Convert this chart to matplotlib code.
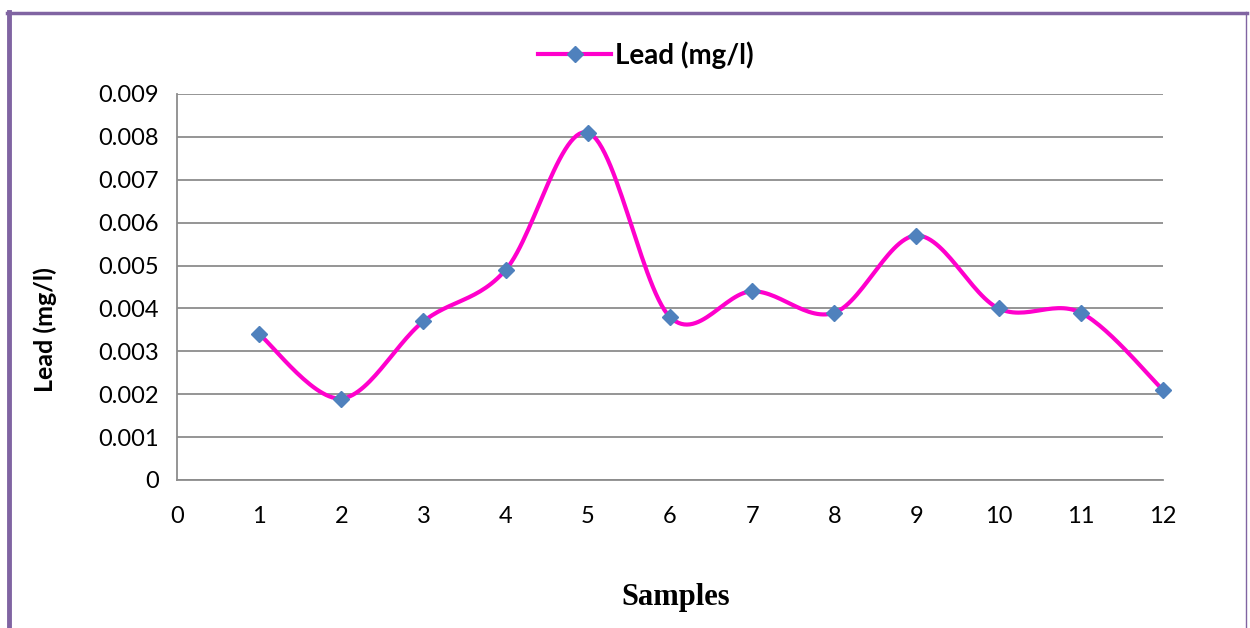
import matplotlib
matplotlib.use("Agg")
import matplotlib.pyplot as plt
import numpy as np
from matplotlib.lines import Line2D

samples = [1, 2, 3, 4, 5, 6, 7, 8, 9, 10, 11, 12]
lead = [0.0034, 0.0019, 0.0037, 0.0049, 0.0081, 0.0038, 0.0044, 0.0039, 0.0057, 0.0040, 0.0039, 0.0021]
yticks = [0, 0.001, 0.002, 0.003, 0.004, 0.005, 0.006, 0.007, 0.008, 0.009]
xticks = list(range(0, 13))


def smooth(x, y, n=30):
    # Excel-like smoothed line: Catmull-Rom segments between data points
    x = np.asarray(x, float)
    y = np.asarray(y, float)
    px = np.concatenate([[x[0]], x, [x[-1]]])
    py = np.concatenate([[y[0]], y, [y[-1]]])
    xs, ys = [], []
    t = np.linspace(0, 1, n)
    for i in range(1, len(px) - 2):
        p0, p1, p2, p3 = [np.array([px[j], py[j]]) for j in (i - 1, i, i + 1, i + 2)]
        c1 = p1 + (p2 - p0) / 6
        c2 = p2 - (p3 - p1) / 6
        pts = ((1 - t) ** 3)[:, None] * p1 + (3 * (1 - t) ** 2 * t)[:, None] * c1 \
            + (3 * (1 - t) * t ** 2)[:, None] * c2 + (t ** 3)[:, None] * p2
        xs.extend(pts[:, 0])
        ys.extend(pts[:, 1])
    return xs, ys


font = "Lato"
fig = plt.figure(figsize=(12.5, 6.28), dpi=100)
ax = fig.add_axes([177 / 1250, 1 - 480 / 628, (1163 - 177) / 1250, (480 - 94) / 628])

sx, sy = smooth(samples, lead)
ax.plot(sx, sy, color="#FF00CC", lw=3, zorder=3, clip_on=False)
ax.plot(samples, lead, linestyle="none", marker="D", ms=8.5, color="#4F81BD", zorder=4, clip_on=False)

ax.set_xlim(0, 12)
ax.set_ylim(0, 0.009)
ax.set_xticks(xticks)
ax.set_yticks(yticks)
ax.set_xticklabels([str(v) for v in xticks], fontsize=17, family=font)
ax.set_yticklabels(["0"] + ["%.3f" % v for v in yticks[1:]], fontsize=17, family=font)
ax.tick_params(axis="y", length=0, pad=13)
ax.tick_params(axis="x", length=0, pad=19)
ax.grid(axis="y", color="#8C8C8C", lw=1.3)
ax.set_axisbelow(True)
for s in ["top", "right"]:
    ax.spines[s].set_visible(False)
for s in ["left", "bottom"]:
    ax.spines[s].set_color("#8C8C8C")
    ax.spines[s].set_linewidth(1.3)

fig.text(45 / 1250, 1 - 330 / 628, "Lead (mg/l)", ha="center", va="center", rotation=90,
         fontsize=18, fontweight="bold", family=font)
fig.text(676 / 1250, 1 - 597 / 628, "Samples", ha="center", va="center",
         fontsize=22, fontweight="bold", family="Liberation Serif")

handle = Line2D([], [], color="#FF00CC", lw=3, marker="D", ms=8.5,
                markerfacecolor="#4F81BD", markeredgecolor="#4F81BD")
fig.legend([handle], ["Lead (mg/l)"], loc="center", bbox_to_anchor=(646 / 1250, 1 - 55 / 628),
           frameon=False, prop={"family": font, "weight": "bold", "size": 20},
           handlelength=2.6, handletextpad=0.15)

# purple frame
purple = "#8064A2"
fig.add_artist(Line2D([9 / 1250, 9 / 1250], [0, 1 - 12 / 628], color=purple, lw=3.5, transform=fig.transFigure))
fig.add_artist(Line2D([7 / 1250, 1247 / 1250], [1 - 13 / 628, 1 - 13 / 628], color=purple, lw=2.5, transform=fig.transFigure))
fig.add_artist(Line2D([1246 / 1250, 1246 / 1250], [0, 1 - 12 / 628], color=purple, lw=1, transform=fig.transFigure))

fig.savefig("out.png", dpi=100)
